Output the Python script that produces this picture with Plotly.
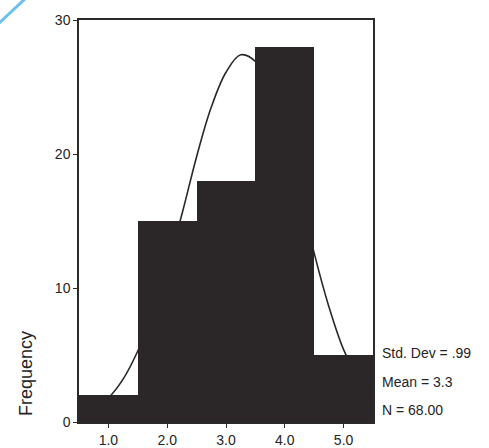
import plotly.graph_objects as go

# Histogram data (bin centers and counts)
bin_centers = [1.0, 2.0, 3.0, 4.0, 5.0]
counts = [2, 15, 18, 28, 5]

# Normal curve points
curve_x = [0.5, 0.75, 1.0, 1.25, 1.5, 1.75, 2.0, 2.25, 2.5, 2.75, 3.0,
           3.25, 3.5, 3.75, 4.0, 4.25, 4.5, 4.75, 5.0, 5.25, 5.5]
curve_y = [0.5, 1.0, 1.8, 3.2, 5.3, 8.0, 11.6, 15.5, 19.8, 23.5, 26.1,
           27.4, 26.9, 24.7, 21.3, 17.3, 12.6, 8.6, 5.4, 3.3, 2.0]

x_ticks = [1.0, 2.0, 3.0, 4.0, 5.0]
x_tick_labels = ["1.0", "2.0", "3.0", "4.0", "5.0"]
y_ticks = [0, 10, 20, 30]

stats_labels = ["Std. Dev = .99", "Mean = 3.3", "N = 68.00"]

BAR = "#2b2728"
TXT = "#262424"
FONT = "Liberation Sans, Arial, sans-serif"

fig = go.Figure()
fig.add_trace(go.Bar(
    x=bin_centers, y=counts, width=1.0,
    marker=dict(color=BAR, line=dict(width=0)),
    showlegend=False, hoverinfo="skip",
))
fig.add_trace(go.Scatter(
    x=curve_x, y=curve_y, mode="lines",
    line=dict(color=BAR, width=1.6, shape="spline"),
    showlegend=False, hoverinfo="skip", cliponaxis=True,
))

L, R, T, B = 79, 116, 20, 26
plot_w = 489 - L - R
plot_h = 448 - T - B

fig.update_layout(
    template="none",
    width=489, height=448, autosize=False,
    margin=dict(l=L, r=R, t=T, b=B, pad=0, autoexpand=False),
    paper_bgcolor="white", plot_bgcolor="white",
    bargap=0,
    font=dict(family=FONT, color=TXT, size=14),
    xaxis=dict(
        range=[0.5, 5.5], tickvals=x_ticks, ticktext=x_tick_labels,
        showgrid=False, zeroline=False, automargin=False,
        showline=True, linecolor="#2a2a2a", linewidth=1.5, mirror=True,
        ticks="outside", ticklen=4, tickcolor="#2a2a2a", tickwidth=1,
        tickfont=dict(size=14, family=FONT, color=TXT),
    ),
    yaxis=dict(
        range=[0, 30], tickvals=y_ticks,
        showgrid=False, zeroline=False, automargin=False,
        showline=True, linecolor="#2a2a2a", linewidth=1.5, mirror=True,
        ticks="outside", ticklen=4, tickcolor="#2a2a2a", tickwidth=1,
        tickfont=dict(size=14, family=FONT, color=TXT),
    ),
)

# Stats annotations at the right
stat_py = [353, 382, 410]
for label, py in zip(stats_labels, stat_py):
    fig.add_annotation(
        text=label, xref="paper", yref="paper",
        x=(380 - L) / plot_w, y=(448 - B - py) / plot_h,
        xanchor="left", yanchor="middle", showarrow=False,
        font=dict(size=14, family=FONT, color=TXT),
    )

# Rotated y-axis title placed low, as in the reference
fig.add_annotation(
    text="Frequency", xref="paper", yref="paper",
    x=(26 - L) / plot_w, y=(448 - B - 374) / plot_h,
    xanchor="center", yanchor="middle", textangle=-90, showarrow=False,
    font=dict(size=18, family=FONT, color=TXT),
)

# Blue scan mark at top-left corner
def px(xp):
    return (xp - L) / plot_w

def py_(yp):
    return (448 - B - yp) / plot_h

fig.add_shape(
    type="line", xref="paper", yref="paper",
    x0=px(-3), y0=py_(25), x1=px(27), y1=py_(-3),
    line=dict(color="#6cc0ec", width=3),
)

fig.write_html(
    "out.html",
    config={"displayModeBar": False},
    post_script="document.body.style.margin='0';document.body.style.overflow='hidden';",
)
